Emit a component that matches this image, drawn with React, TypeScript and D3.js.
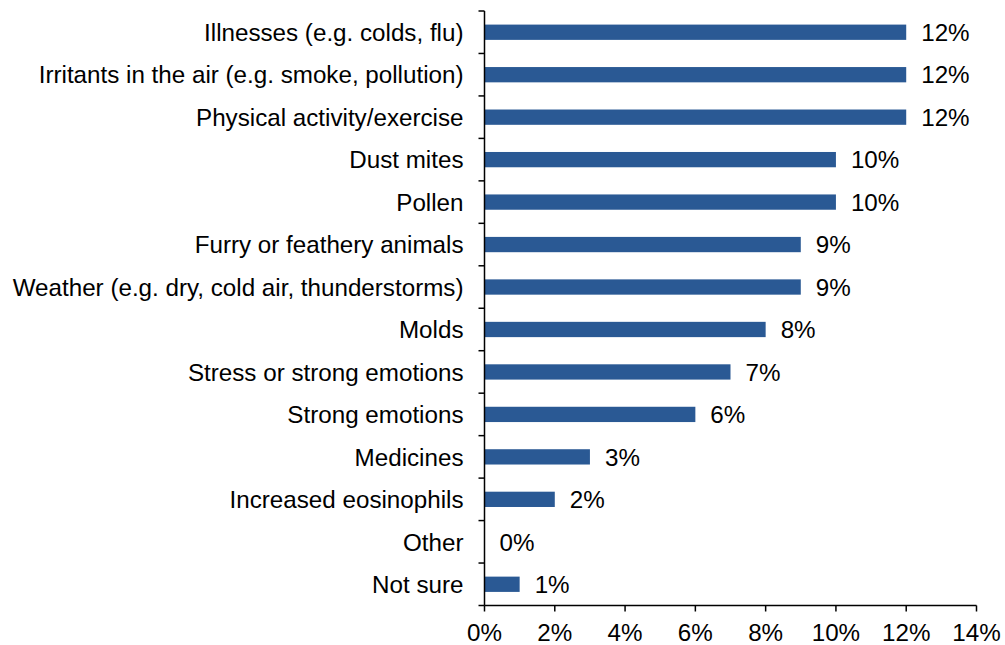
import React from "react";
import * as d3 from "d3";

const categories = [
  "Illnesses (e.g. colds, flu)",
  "Irritants in the air (e.g. smoke, pollution)",
  "Physical activity/exercise",
  "Dust mites",
  "Pollen",
  "Furry or feathery animals",
  "Weather (e.g. dry, cold air, thunderstorms)",
  "Molds",
  "Stress or strong emotions",
  "Strong emotions",
  "Medicines",
  "Increased eosinophils",
  "Other",
  "Not sure",
];
const values = [12, 12, 12, 10, 10, 9, 9, 8, 7, 6, 3, 2, 0, 1];
const xTicks = [0, 2, 4, 6, 8, 10, 12, 14];

const W = 1005;
const H = 645;
const left = 484.5;
const right = 976.5;
const top = 11;
const bottom = 605.5;
const barColor = "#2a5994";
const font = "'Liberation Sans', Arial, sans-serif";
const fs = 24.2;

export default function App() {
  const x = d3.scaleLinear().domain([0, 14]).range([left, right]);
  const y = d3
    .scaleBand<string>()
    .domain(categories)
    .range([top, bottom])
    .paddingInner(0.64)
    .paddingOuter(0.32);
  const step = y.step();
  const boundaries = d3.range(categories.length + 1).map((i) => top + i * step);

  return (
    <svg
      width={W}
      height={H}
      style={{ position: "absolute", left: 0, top: 0, background: "#fff" }}
      fontFamily={font}
    >
      {categories.map((c, i) => (
        <g key={c}>
          <rect
            x={x(0)}
            y={y(c)!}
            width={x(values[i]) - x(0)}
            height={y.bandwidth()}
            fill={barColor}
          />
          <text
            x={x(values[i]) + 15}
            y={y(c)! + y.bandwidth() / 2}
            dy="0.36em"
            fontSize={fs}
            fill="#000"
          >
            {values[i]}%
          </text>
          <text
            x={left - 21}
            y={y(c)! + y.bandwidth() / 2}
            dy="0.36em"
            fontSize={fs}
            textAnchor="end"
            fill="#000"
          >
            {c}
          </text>
        </g>
      ))}
      {/* y axis */}
      <line x1={left} x2={left} y1={top} y2={bottom} stroke="#000" strokeWidth={1.5} />
      {boundaries.map((b, i) => (
        <line key={i} x1={left - 6} x2={left} y1={b} y2={b} stroke="#000" strokeWidth={1.5} />
      ))}
      {/* x axis */}
      <line x1={left} x2={right} y1={bottom} y2={bottom} stroke="#000" strokeWidth={1.5} />
      {xTicks.map((t) => (
        <g key={t}>
          <line x1={x(t)} x2={x(t)} y1={bottom} y2={bottom + 6} stroke="#000" strokeWidth={1.5} />
          <text x={x(t)} y={641} textAnchor="middle" fontSize={fs} fill="#000">
            {t}%
          </text>
        </g>
      ))}
    </svg>
  );
}
